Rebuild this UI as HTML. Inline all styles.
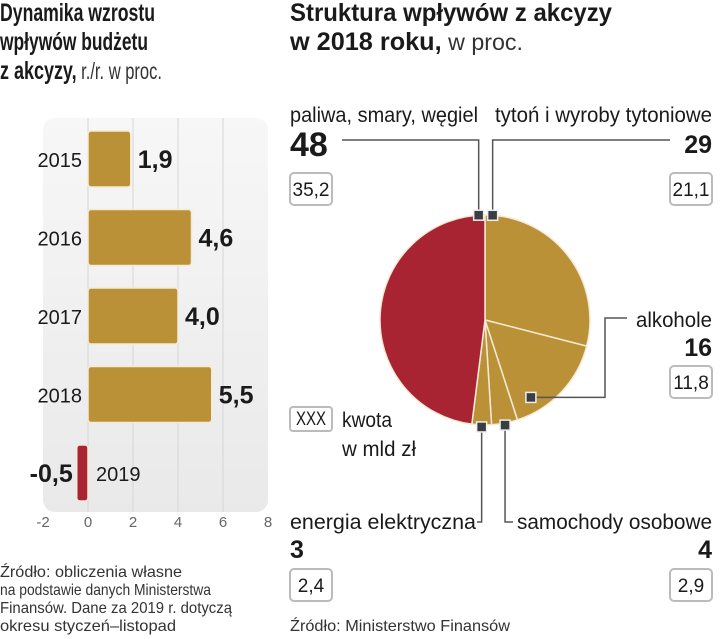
<!DOCTYPE html>
<html><head><meta charset="utf-8">
<style>
body{margin:0;background:#fff;width:720px;height:639px;overflow:hidden}
svg{display:block;font-family:"Liberation Sans Narrow","Liberation Sans",sans-serif}
.t{font-weight:bold;font-size:25px;fill:#1a1a1a}
.tl{font-weight:normal;font-size:23px;fill:#333}
.lab{font-size:21px;fill:#1a1a1a}
.val{font-weight:bold;font-size:25px;fill:#1a1a1a}
.big{font-weight:bold;font-size:34px;fill:#1a1a1a}
.box{font-size:19px;fill:#1a1a1a}
.src{font-size:16px;fill:#333}
.tick{font-size:15px;fill:#666;font-family:"Liberation Sans",sans-serif}
.yr{font-size:20px;fill:#1a1a1a;font-family:"Liberation Sans",sans-serif}
</style></head><body>
<svg id="c" width="720" height="639" viewBox="0 0 720 639">
<text class="t" x="0" y="21" textLength="155" lengthAdjust="spacingAndGlyphs">Dynamika wzrostu</text>
<text class="t" x="0" y="50" textLength="148" lengthAdjust="spacingAndGlyphs">wpływów budżetu</text>
<text class="t" x="0" y="79" textLength="162" lengthAdjust="spacingAndGlyphs">z akcyzy,<tspan class="tl"> r./r. w proc.</tspan></text>
<text class="t" x="290" y="21" textLength="322" lengthAdjust="spacingAndGlyphs">Struktura wpływów z akcyzy</text>
<text class="t" x="290" y="50" textLength="233" lengthAdjust="spacingAndGlyphs">w 2018 roku,<tspan class="tl"> w proc.</tspan></text>
<defs><linearGradient id="pg" x1="0" x2="0" y1="0" y2="1"><stop offset="0" stop-color="#f7f7f7"/><stop offset="1" stop-color="#e9e9e9"/></linearGradient></defs>
<rect x="43" y="118" width="225" height="394" rx="12" fill="url(#pg)"/>
<g id="bars"></g>
<g id="pie"></g>
<text class="src" x="0" y="577" textLength="182" lengthAdjust="spacingAndGlyphs">Źródło: obliczenia własne</text>
<text class="src" x="0" y="595" textLength="211" lengthAdjust="spacingAndGlyphs">na podstawie danych Ministerstwa</text>
<text class="src" x="0" y="613" textLength="232" lengthAdjust="spacingAndGlyphs">Finansów. Dane za 2019 r. dotyczą</text>
<text class="src" x="0" y="631" textLength="176" lengthAdjust="spacingAndGlyphs">okresu styczeń–listopad</text>
<text class="src" x="290" y="631" textLength="220" lengthAdjust="spacingAndGlyphs">Źródło: Ministerstwo Finansów</text>
</svg>
<script>
const years=["2015","2016","2017","2018","2019"];
const growth=[1.9,4.6,4.0,5.5,-0.5];
const growthLabels=["1,9","4,6","4,0","5,5","-0,5"];
const xTicks=[-2,0,2,4,6,8];
const sliceNames=["tytoń i wyroby tytoniowe","alkohole","samochody osobowe","energia elektryczna","paliwa, smary, węgiel"];
const sliceShares=[29,16,4,3,48];
const sliceAmounts=["21,1","11,8","2,9","2,4","35,2"];
const NS="http://www.w3.org/2000/svg";
function mk(tag,attrs,parent,text){const e=document.createElementNS(NS,tag);for(const k in attrs)e.setAttribute(k,attrs[k]);if(text!==undefined)e.textContent=text;parent.appendChild(e);return e;}
const X=v=>88+v*22.5;
const bars=document.getElementById('bars');
xTicks.forEach(t=>{
  if(t>-2&&t<8){const l=mk('line',{x1:X(t),x2:X(t),y1:118,y2:512,stroke:'#d6d6d6','stroke-width':1},bars);
  
  }
  const tx=mk('text',{x:X(t),y:527,'text-anchor':'middle',class:'tick'},bars,String(t));
  
  
});
const rowY=i=>131+i*78.5;
years.forEach((y,i)=>{
  const v=growth[i],neg=v<0;
  const x0=Math.min(X(0),X(v)),w=Math.abs(X(v)-X(0));
  const top=rowY(i),h=56;
  const r=mk('rect',{x:x0,y:top,width:w,height:h,rx:3,fill:neg?'#a82433':'#bb9137',stroke:'#f4ead6','stroke-width':1.5},bars);
  
  
  const cy=top+h/2+8;
  if(!neg){
    const yl=mk('text',{x:X(0)-6,y:cy,'text-anchor':'end',class:'yr'},bars,y);
    
    
    const vl=mk('text',{x:X(v)+7,y:cy+1,class:'val'},bars,growthLabels[i]);
    
    
  }else{
    const yl=mk('text',{x:X(0)+8,y:cy,class:'yr'},bars,y);
    
    
    const vl=mk('text',{x:X(v)-4,y:cy+1,'text-anchor':'end',class:'val'},bars,growthLabels[i]);
    
    
  }
});
const pie=document.getElementById('pie');
const cx=485,cy=320,R=105;
const tot=sliceShares.reduce((a,b)=>a+b,0);
const colors=['#bb9137','#bb9137','#bb9137','#bb9137','#a82433'];
let a=0;const mids=[];
const pt=(ang,r)=>[cx+r*Math.sin(ang),cy-r*Math.cos(ang)];
sliceShares.forEach((s,i)=>{
  const a0=a,a1=a+s/tot*2*Math.PI;a=a1;mids.push([a0,a1]);
  const p0=pt(a0,R),p1=pt(a1,R);
  const p=mk('path',{d:`M${cx},${cy}L${p0[0]},${p0[1]}A${R},${R} 0 ${a1-a0>Math.PI?1:0} 1 ${p1[0]},${p1[1]}Z`,fill:colors[i],stroke:'#f4ead6','stroke-width':1.5},pie);
  
  
});
function marker(x,y){const m=mk('rect',{x:x-5,y:y-5,width:10,height:10,fill:'#3a3d42',stroke:'#eee','stroke-width':1.5},pie);

}
function line(pts){const l=mk('polyline',{points:pts.map(p=>p.join(',')).join(' '),fill:'none',stroke:'#555','stroke-width':1.5},pie);

}
function box(x,y,w,t){const b=mk('rect',{x:x,y:y,width:w,height:32,rx:4,fill:'#fff',stroke:'#bbb','stroke-width':2},pie);


const tx=mk('text',{x:x+w/2,y:y+23,'text-anchor':'middle',class:'box'},pie,t);

}
function txt(x,y,cls,anchor,t,name,len){const at={x:x,y:y,class:cls,'text-anchor':anchor};if(len){at.textLength=len;at.lengthAdjust='spacingAndGlyphs';}const e=mk('text',at,pie,t);

}
const mp=(i,f,r)=>pt(mids[i][0]+(mids[i][1]-mids[i][0])*f,r);
let m=mp(4,0.98,R);line([[m[0],m[1]],[m[0],140],[342,140]]);marker(m[0],m[1]);
txt(290,122,'lab','start',sliceNames[4],'label-paliwa',188);txt(290,156,'big','start',String(sliceShares[4]),'share-paliwa');box(290,173,42,sliceAmounts[4]);
m=mp(0,0.04,R);line([[m[0],m[1]],[m[0],140],[670,140]]);marker(m[0],m[1]);
txt(712,122,'lab','end',sliceNames[0],'label-tyton',217);txt(712,153,'val','end',String(sliceShares[0]),'share-tyton');box(670,173,42,sliceAmounts[0]);
m=mp(1,0.78,R-15);line([[m[0],m[1]],[605,m[1]],[605,318],[627,318]]);marker(m[0],m[1]);
txt(712,327,'lab','end',sliceNames[1],'label-alkohole',76);txt(712,356,'val','end',String(sliceShares[1]),'share-alkohole');box(670,366,42,sliceAmounts[1]);
m=mp(2,0.5,R+2);line([[m[0],m[1]],[m[0],522],[513,522]]);marker(m[0],m[1]);
txt(712,529,'lab','end',sliceNames[2],'label-samochody',195);txt(712,558,'val','end',String(sliceShares[2]),'share-samochody');box(670,569,42,sliceAmounts[2]);
m=mp(3,0.5,R+2);line([[m[0],m[1]],[m[0],522],[477,522]]);marker(m[0],m[1]);
txt(290,529,'lab','start',sliceNames[3],'label-energia',186);txt(290,558,'val','start',String(sliceShares[3]),'share-energia');box(290,569,42,sliceAmounts[3]);
const lb=mk('rect',{x:290,y:407,width:42,height:24,rx:3,fill:'#fff',stroke:'#bbb','stroke-width':2},pie);


txt(311,425,'box','middle','XXX','legend-box-text',30);
txt(342,427,'lab','start','kwota','legend-text',50);
txt(342,456,'lab','start','w mld zł','legend-text-line2',74);
</script>
</body></html>
